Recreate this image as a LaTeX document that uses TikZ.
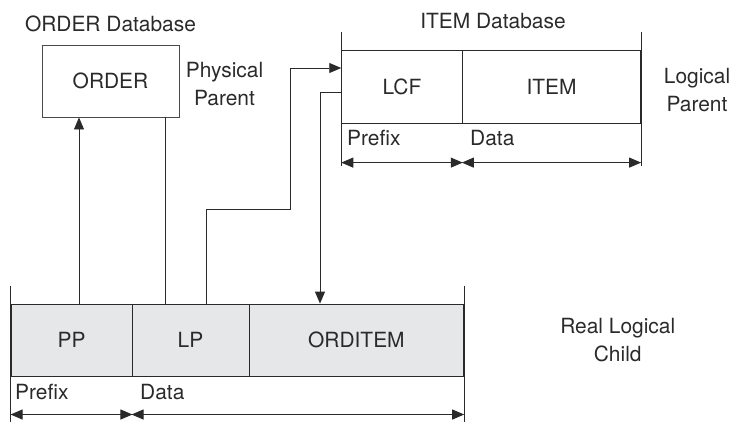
\documentclass[tikz,border=0pt]{standalone}
\usepackage{fontspec}
\setmainfont{TeX Gyre Heros}
\usetikzlibrary{arrows.meta}
\definecolor{ink}{HTML}{2A2A2A}
\definecolor{segfill}{HTML}{E6E7E8}
\tikzset{
  lbl/.style={font=\fontsize{21}{29}\selectfont, text=ink, inner sep=0pt, align=center},
  wire/.style={draw=ink, line width=0.9bp},
  fld/.style={wire, lbl, minimum height=72.5bp},
  ptr/.style={wire, -{Triangle[length=12bp,width=10bp]}},
  dimline/.style={wire, {Triangle[length=12bp,width=10bp]}-{Triangle[length=12bp,width=10bp]}}
}
\begin{document}
\begin{tikzpicture}[x=1bp, y=-1bp]
\useasboundingbox (0,0) rectangle (738,421);
\node[lbl] (orderdb) at (110.5,24) {ORDER Database};
\node[fld, draw=ink!85, minimum width=137bp, minimum height=72bp] (order) at (110.5,81) {ORDER};
\node[lbl] (physpar) at (224.5,84) {Physical\\Parent};
\node[lbl] (itemdb) at (493,21) {ITEM Database};
\node[fld, minimum width=120.6bp] (lcf) at (402,86.9) {LCF};
\node[fld, minimum width=178.4bp] (item) at (551.5,86.9) {ITEM};
\node[lbl] (logpar) at (697,90) {Logical\\Parent};
\node[fld, fill=segfill, minimum width=121bp] (pp) at (71.5,340.3) {PP};
\node[fld, fill=segfill, minimum width=117bp] (lp) at (190.5,340.3) {LP};
\node[fld, fill=segfill, minimum width=214.7bp] (orditem) at (356.4,340.3) {ORDITEM};
\node[lbl] (realchild) at (617.7,340) {Real Logical\\Child};
\node[lbl, anchor=west] (itemprefix) at (347,138) {Prefix};
\node[lbl, anchor=west] (itemdata) at (470,138) {Data};
\node[lbl, anchor=west] (ordprefix) at (15,392) {Prefix};
\node[lbl, anchor=west] (orddata) at (140,392) {Data};
\draw[wire] ([yshift=18.5bp]lcf.north west) -- ([yshift=-42bp]lcf.south west);
\draw[wire] ([yshift=18.5bp]item.north east) -- ([yshift=-42bp]item.south east);
\draw[wire] ([yshift=18bp]pp.north west) -- ([yshift=-45bp]pp.south west);
\draw[wire] ([yshift=18bp]orditem.north east) -- ([yshift=-45bp]orditem.south east);
\draw[dimline] ([yshift=-39bp]lcf.south west) -- ([yshift=-39bp]lcf.south east);
\draw[dimline] ([yshift=-39bp]item.south west) -- ([yshift=-39bp]item.south east);
\draw[dimline] ([yshift=-37.5bp]pp.south west) -- ([yshift=-37.5bp]pp.south east);
\draw[dimline] ([yshift=-37.5bp]lp.south west) -- ([yshift=-37.5bp]orditem.south east);
\coordinate (ppout) at ([xshift=7.5bp]pp.north);
\coordinate (lpin) at ([xshift=-25.5bp]lp.north);
\coordinate (lpout) at ([xshift=16bp]lp.north);
\coordinate (lcfin) at ([yshift=18.9bp]lcf.west);
\coordinate (lcfout) at ([yshift=-6bp]lcf.west);
\coordinate (oiin) at ([xshift=-36.4bp]orditem.north);
\draw[ptr] (ppout) -- (ppout |- order.south);
\draw[wire] (lpin |- order.south) -- (lpin);
\draw[ptr] (lpout) |- ++(84.3,-94) |- (lcfin);
\draw[ptr] (lcfout) -| (oiin);
\end{tikzpicture}
\end{document}
